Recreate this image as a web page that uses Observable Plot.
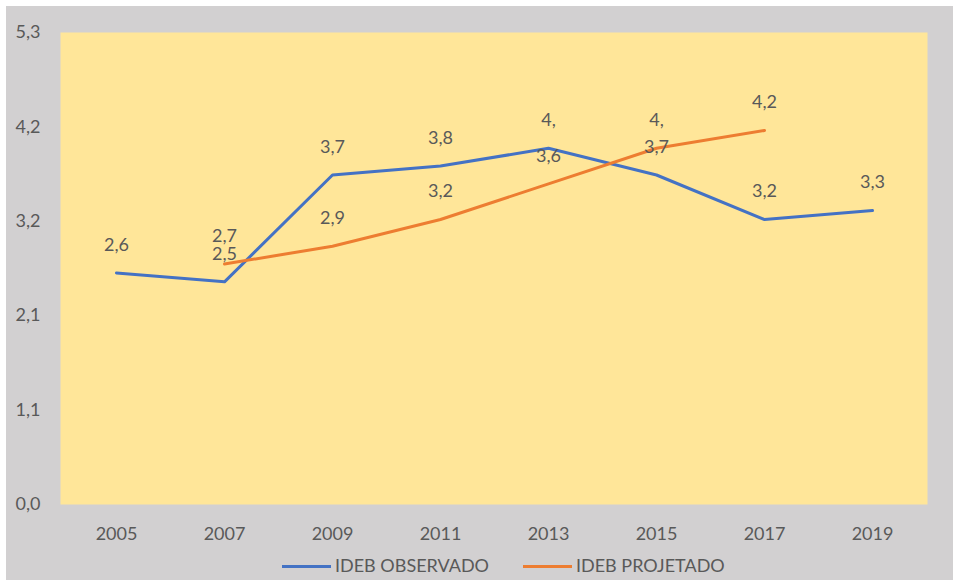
<!DOCTYPE html>
<html>
<head>
<meta charset="utf-8">
<script src="https://cdn.jsdelivr.net/npm/d3@7"></script>
<script src="https://cdn.jsdelivr.net/npm/@observablehq/plot@0.6"></script>
<style>
  html, body { margin: 0; padding: 0; background: #ffffff; }
  #wrap { position: absolute; left: 6px; top: 6px; width: 947px; height: 574px; background: #D2D0D1; overflow: hidden; font-family: Lato, "Open Sans", sans-serif; }
  #legend { position: relative; height: 29px; color: #595959; font-size: 18px; }
  .sw { position: absolute; top: 14px; width: 49px; height: 3px; }
  .lt { position: absolute; top: 4px; white-space: nowrap; line-height: 20px; }
</style>
</head>
<body>
<div id="wrap"><div id="chart"></div><div id="legend"></div></div>
<script>
const years = ["2005", "2007", "2009", "2011", "2013", "2015", "2017", "2019"];
const observado = [2.6, 2.5, 3.7, 3.8, 4.0, 3.7, 3.2, 3.3];
const observadoLabels = ["2,6", "2,5", "3,7", "3,8", "4,", "3,7", "3,2", "3,3"];
const projetadoYears = ["2007", "2009", "2011", "2013", "2015", "2017"];
const projetado = [2.7, 2.9, 3.2, 3.6, 4.0, 4.2];
const projetadoLabels = ["2,7", "2,9", "3,2", "3,6", "4,", "4,2"];
const yTicks = [0, 1.06, 2.12, 3.18, 4.24, 5.3];
const yTickLabels = ["0,0", "1,1", "2,1", "3,2", "4,2", "5,3"];
const seriesNames = ["IDEB OBSERVADO", "IDEB PROJETADO"];
const seriesColors = ["#4472C4", "#ED7D31"];

const obsData = years.map((y, i) => ({year: y, value: observado[i], label: observadoLabels[i]}));
const projData = projetadoYears.map((y, i) => ({year: y, value: projetado[i], label: projetadoLabels[i]}));

const chart = Plot.plot({
  width: 947,
  height: 545,
  marginLeft: 54,
  marginRight: 26,
  marginTop: 26,
  marginBottom: 47,
  style: {background: "transparent", fontFamily: "Lato, 'Open Sans', sans-serif", fontSize: "18px", color: "#595959"},
  x: {type: "point", domain: years, padding: 0.5, label: null},
  y: {domain: [0, 5.3], label: null},
  marks: [
    Plot.frame({fill: "#FFE699", stroke: null}),
    Plot.axisX({tickSize: 0, tickPadding: 23, label: null, fill: "#595959", fontSize: 18}),
    Plot.axisY({ticks: yTicks, tickSize: 0, tickPadding: 20, label: null, fill: "#595959", fontSize: 18,
      tickFormat: d => yTickLabels[yTicks.indexOf(d)]}),
    Plot.line(obsData, {x: "year", y: "value", stroke: seriesColors[0], strokeWidth: 3}),
    Plot.line(projData, {x: "year", y: "value", stroke: seriesColors[1], strokeWidth: 3}),
    Plot.text(obsData, {x: "year", y: "value", text: "label", dy: -28, fill: "#595959", fontSize: 18}),
    Plot.text(projData, {x: "year", y: "value", text: "label", dy: -28, fill: "#595959", fontSize: 18})
  ]
});
document.getElementById("chart").appendChild(chart);

const legend = document.getElementById("legend");
const lx = [276, 517];
seriesNames.forEach((name, i) => {
  const sw = document.createElement("div");
  sw.className = "sw";
  sw.style.left = lx[i] + "px";
  sw.style.background = seriesColors[i];
  legend.appendChild(sw);
  const t = document.createElement("div");
  t.className = "lt";
  t.style.left = (lx[i] + 53) + "px";
  t.textContent = name;
  legend.appendChild(t);
});
</script>
</body>
</html>
